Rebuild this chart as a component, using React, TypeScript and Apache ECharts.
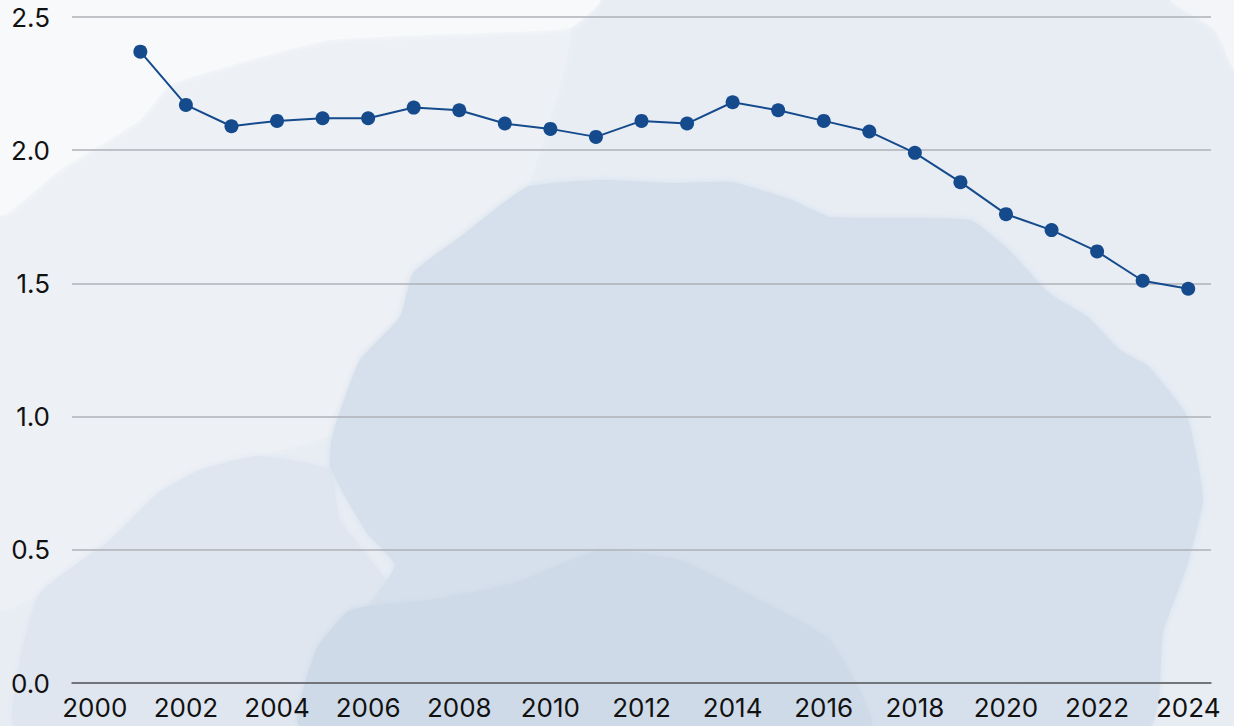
import React, { useEffect, useRef } from "react";
import * as echarts from "echarts";

const years: string[] = [
  "2000", "2001", "2002", "2003", "2004", "2005", "2006", "2007", "2008", "2009",
  "2010", "2011", "2012", "2013", "2014", "2015", "2016", "2017", "2018", "2019",
  "2020", "2021", "2022", "2023", "2024",
];
const values: (number | null)[] = [
  null, 2.37, 2.17, 2.09, 2.11, 2.12, 2.12, 2.16, 2.15, 2.10,
  2.08, 2.05, 2.11, 2.10, 2.18, 2.15, 2.11, 2.07, 1.99, 1.88,
  1.76, 1.70, 1.62, 1.51, 1.48,
];
const yTicks: number[] = [0, 0.5, 1.0, 1.5, 2.0, 2.5];

const FONT = "Inter, 'Noto Sans', sans-serif";

type Pt = [number, number];
const whiteTopLeft: Pt[] = [
  [0, 0], [600, 0], [570, 28], [450, 34], [330, 40], [250, 60], [170, 85],
  [140, 120], [60, 170], [0, 215],
];
const lightLeft: Pt[] = [
  [0, 215], [60, 170], [140, 120], [170, 85], [250, 60], [330, 40], [450, 34],
  [570, 28], [527, 187], [460, 237], [413, 273], [400, 317], [360, 360],
  [333, 433], [257, 456], [200, 470], [158, 493], [110, 540], [40, 593], [0, 610],
];
const whiteTopRight: Pt[] = [
  [1170, 0], [1234, 0], [1234, 70], [1215, 30],
];
const lowerLeftBlob: Pt[] = [
  [257, 456], [200, 470], [158, 493], [110, 540], [40, 593], [20, 660], [15, 726],
  [420, 726], [400, 600], [340, 520], [330, 470],
];
const bigBlob: Pt[] = [
  [527, 187], [600, 180], [673, 183], [732, 182], [792, 200], [831, 217],
  [970, 220], [1009, 250], [1049, 293], [1088, 317], [1120, 350], [1148, 366],
  [1187, 416], [1203, 499], [1187, 566], [1163, 633], [1159, 699], [1150, 726],
  [330, 726], [345, 640], [395, 566], [367, 533], [330, 467], [333, 433],
  [360, 360], [400, 317], [413, 273], [460, 237],
];
const bottomBlob: Pt[] = [
  [316, 650], [350, 610], [435, 599], [514, 583], [600, 550], [680, 560],
  [760, 600], [830, 640], [870, 726], [300, 726],
];

export default function App() {
  const ref = useRef<HTMLDivElement>(null);
  useEffect(() => {
    if (!ref.current) return;
    const chart = echarts.init(ref.current, undefined, { renderer: "svg" });
    const poly = (pts: Pt[], fill: string, z: number) => ({
      type: "polygon",
      silent: true,
      z,
      shape: { points: pts, smooth: 0.15 },
      style: { fill, shadowBlur: 6, shadowColor: fill },
    });
    chart.setOption({
      animation: false,
      backgroundColor: "#e8edf4",
      graphic: {
        elements: [
          poly(lightLeft, "#edf0f5", -101),
          poly(whiteTopLeft, "#f8f9fb", -100),
          poly(whiteTopRight, "#f3f5f8", -100),
          poly(lowerLeftBlob, "#dfe6f0", -99),
          poly(bigBlob, "#d6e0ec", -98),
          poly(bottomBlob, "#cfdaE8", -97),
        ],
      },
      grid: { left: 72, right: 23, top: 17, bottom: 43, containLabel: false },
      xAxis: {
        type: "category",
        data: years,
        boundaryGap: true,
        axisTick: { show: false },
        axisLine: { show: true, lineStyle: { color: "#5a5e63", width: 1.5 } },
        axisLabel: {
          interval: 1,
          color: "#111111",
          fontFamily: FONT,
          fontSize: 26,
          margin: 11,
        },
        splitLine: { show: false },
      },
      yAxis: {
        type: "value",
        min: yTicks[0],
        max: yTicks[yTicks.length - 1],
        interval: 0.5,
        axisLine: { show: false },
        axisTick: { show: false },
        axisLabel: {
          color: "#111111",
          fontFamily: FONT,
          fontSize: 26,
          margin: 22,
          formatter: (v: number) => v.toFixed(1),
        },
        splitLine: { show: true, lineStyle: { color: "#aeb2b8", width: 1.5 } },
      },
      series: [
        {
          type: "line",
          data: values,
          symbol: "circle",
          symbolSize: 14,
          itemStyle: { color: "#154b8c" },
          lineStyle: { color: "#154b8c", width: 2 },
          z: 10,
        },
      ],
    });
    return () => chart.dispose();
  }, []);
  return (
    <div
      ref={ref}
      style={{ position: "fixed", left: 0, top: 0, width: 1234, height: 726 }}
    />
  );
}
